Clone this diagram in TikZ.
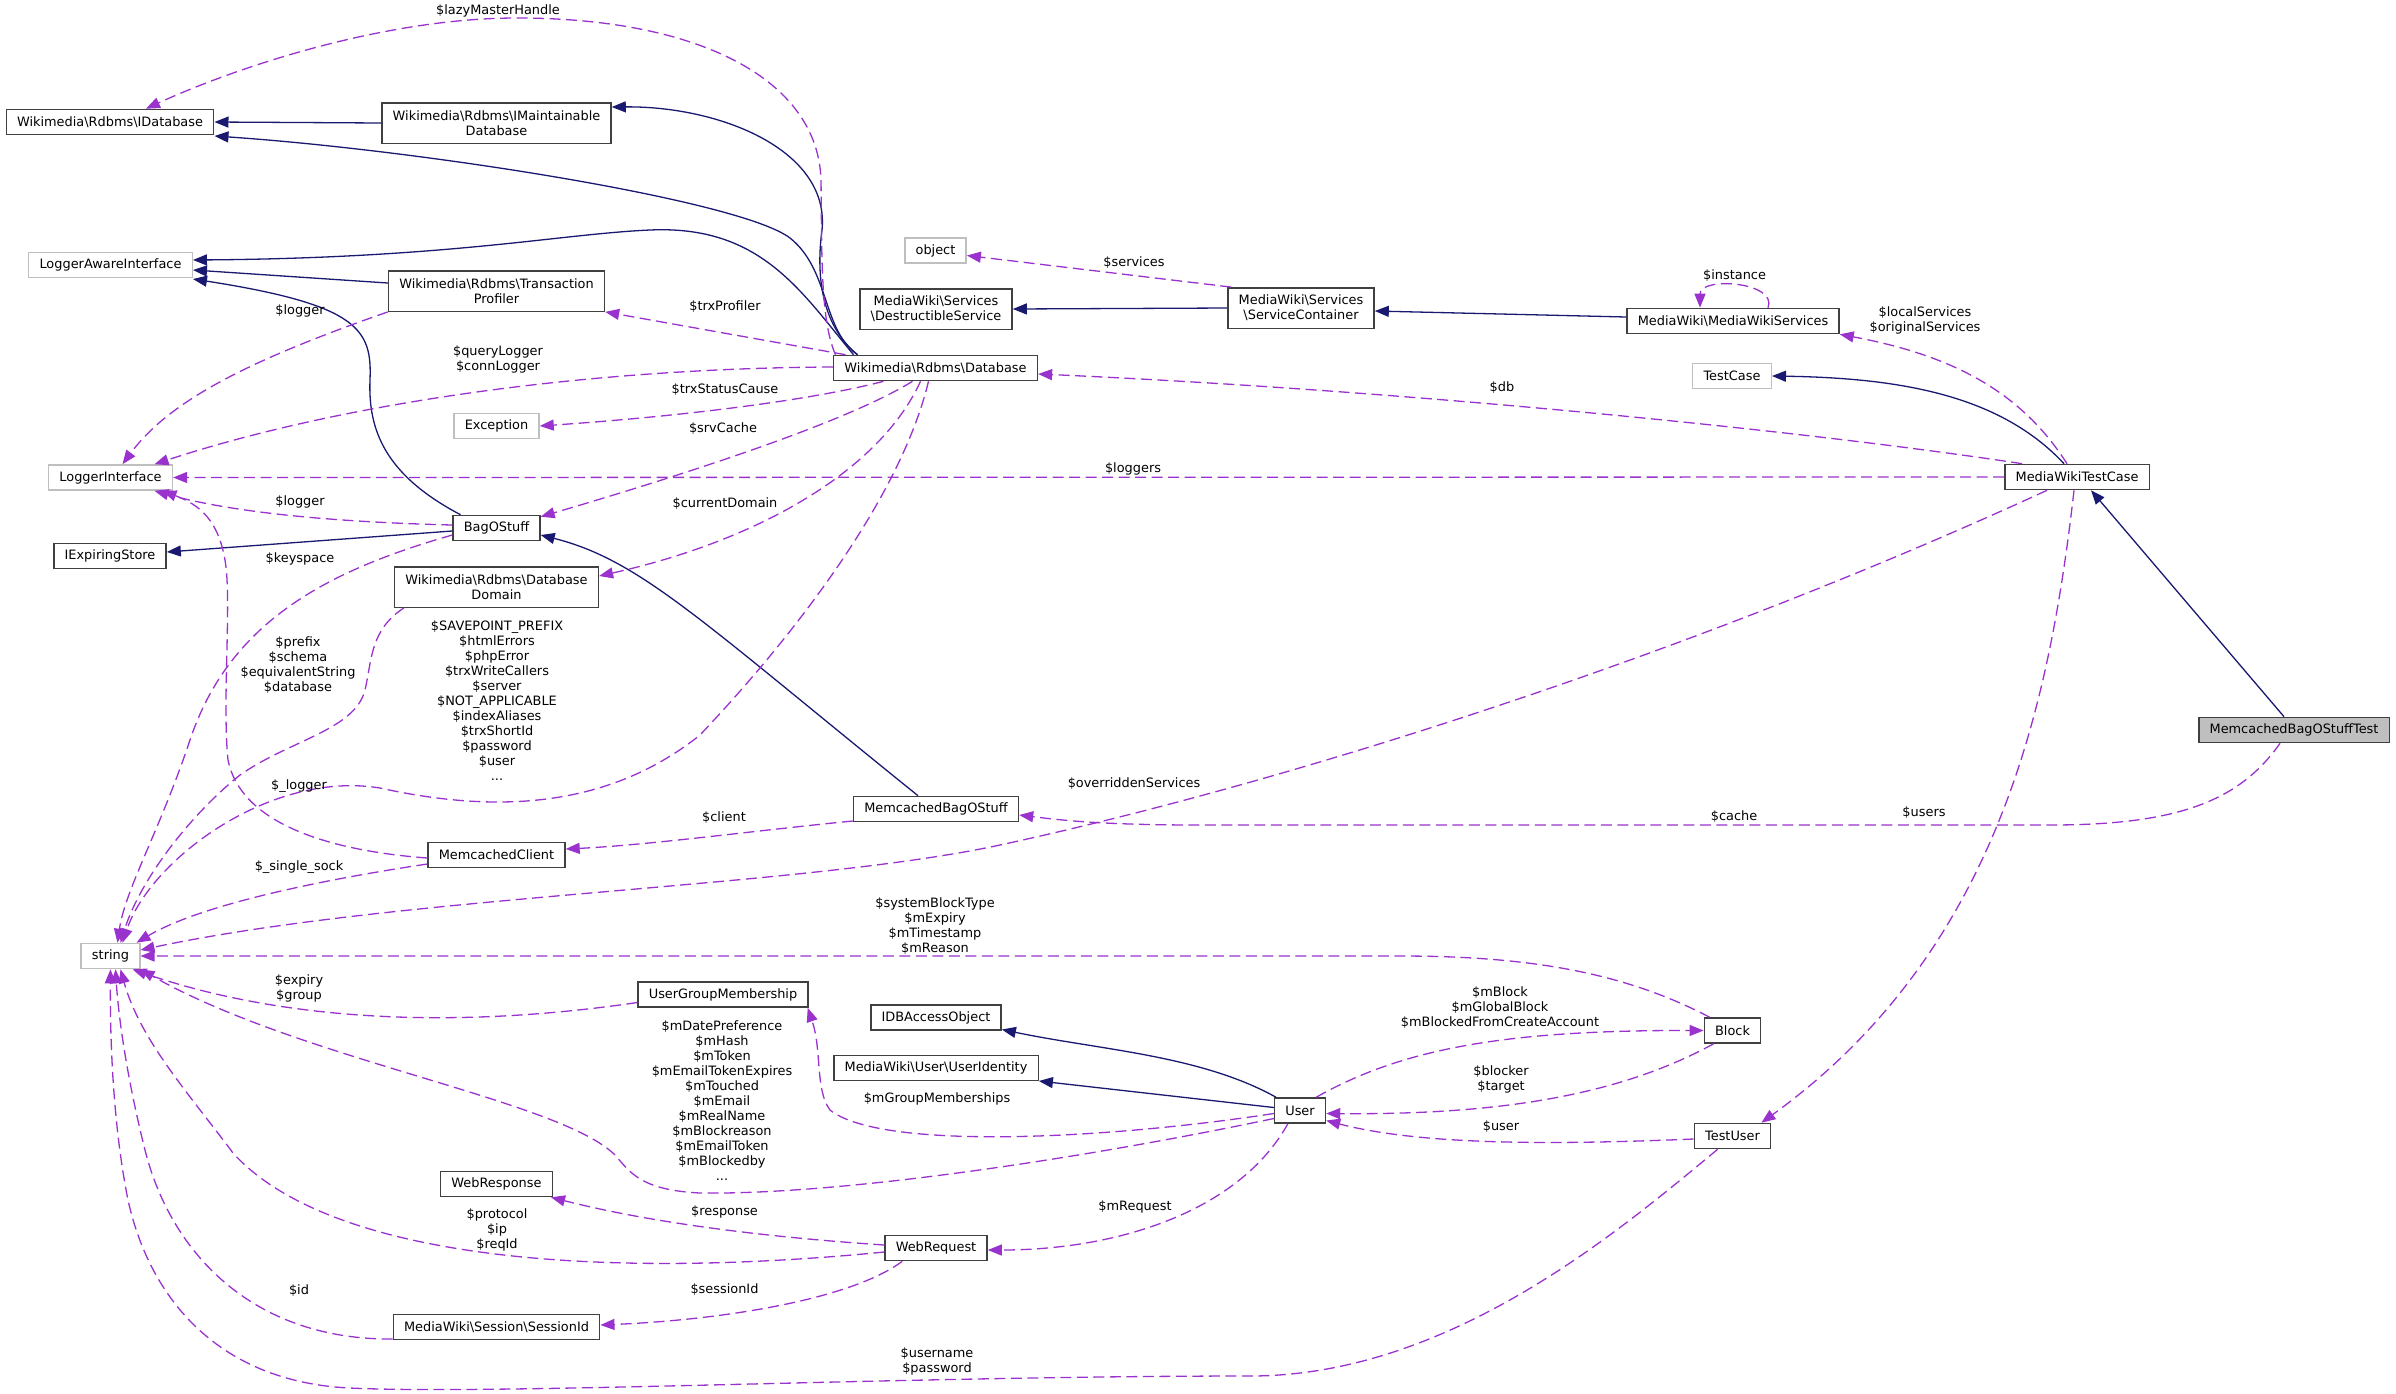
\documentclass[tikz,border=0pt]{standalone}
\usepackage{fontspec}
\setmainfont{DejaVu Sans}
\usepackage{tikz}
\usetikzlibrary{arrows.meta,calc}

\definecolor{edgeblue}{HTML}{191970}
\definecolor{edgeorchid}{HTML}{9A32CD}
\definecolor{boxline}{HTML}{404040}
\definecolor{extline}{HTML}{BFBFBF}

\newcommand{\bkslash}{\textbackslash}

\begin{document}
\begin{tikzpicture}[
  x=0.5pt,
  y=-0.5pt,
  every node/.style={font={\fontsize{6.45}{7.5}\selectfont}},
  cls/.style={draw=boxline, line width=0.7pt, fill=white, inner xsep=5.4pt, inner ysep=2pt, minimum height=12.6pt, align=center},
  tall/.style={cls, minimum height=20.2pt},
  extcls/.style={cls, draw=extline},
  focuscls/.style={cls, fill=extline},
  lab/.style={inner sep=0pt, align=center},
  inhedge/.style={draw=edgeblue, line width=0.65pt, -{Triangle[length=7pt, width=5.5pt]}},
  useedge/.style={draw=edgeorchid, line width=0.65pt, dash pattern=on 5.5pt off 2.75pt, -{Triangle[length=7pt, width=5.5pt]}},
]

% Page frame.
\useasboundingbox (0,0) rectangle (2396,1393);

% Classes, left column.
\node[cls] (idb) at (110,122) {Wikimedia\bkslash Rdbms\bkslash IDatabase};
\node[extcls] (lai) at (110.5,265) {LoggerAwareInterface};
\node[extcls] (li) at (110.5,477.5) {LoggerInterface};
\node[cls] (ies) at (110,556) {IExpiringStore};
\node[extcls] (str) at (110.5,956) {string};

% Classes, second column.
\node[tall] (imdb) at (496.5,123) {Wikimedia\bkslash Rdbms\bkslash IMaintainable\\Database};
\node[tall] (tprof) at (496.5,291) {Wikimedia\bkslash Rdbms\bkslash Transaction\\Profiler};
\node[extcls] (exc) at (496.5,426) {Exception};
\node[cls] (bag) at (496.5,528) {BagOStuff};
\node[tall] (dom) at (496.5,587) {Wikimedia\bkslash Rdbms\bkslash Database\\Domain};
\node[cls] (mcc) at (496.5,855) {MemcachedClient};
\node[cls] (ugm) at (723,994.5) {UserGroupMembership};
\node[cls] (wresp) at (496.5,1184) {WebResponse};
\node[cls] (sid) at (496.5,1327) {MediaWiki\bkslash Session\bkslash SessionId};

% Classes, middle column.
\node[extcls] (obj) at (935.5,250.5) {object};
\node[tall] (dsvc) at (936,309) {MediaWiki\bkslash Services\\\bkslash DestructibleService};
\node[cls] (db) at (935.5,368) {Wikimedia\bkslash Rdbms\bkslash Database};
\node[cls] (mbs) at (936,809) {MemcachedBagOStuff};
\node[cls] (idbao) at (936,1017.5) {IDBAccessObject};
\node[cls] (uid) at (936,1068) {MediaWiki\bkslash User\bkslash UserIdentity};
\node[cls] (wreq) at (936,1248) {WebRequest};

% Classes, right part.
\node[tall] (sc) at (1301,308) {MediaWiki\bkslash Services\\\bkslash ServiceContainer};
\node[cls] (user) at (1300,1110.5) {User};
\node[cls] (mws) at (1733,321) {MediaWiki\bkslash MediaWikiServices};
\node[extcls] (tc) at (1732,376) {TestCase};
\node[cls] (block) at (1732.5,1030.5) {Block};
\node[cls] (tuser) at (1732.5,1136) {TestUser};
\node[cls] (mwtc) at (2077,477) {MediaWikiTestCase};
\node[focuscls] (test) at (2294,730) {MemcachedBagOStuffTest};

% Inheritance.
\draw[inhedge] (imdb.west) -- (idb.east);
\draw[inhedge] ($(db.north)+(-78,0)$) .. controls (822,330) and (830,270) .. (790,238) .. controls (740,200) and (420,150) .. ($(idb.east)+(0,14)$);
\draw[inhedge] ($(db.north)+(-78,0)$) .. controls (815,320) and (818,260) .. (822,230) .. controls (830,150) and (720,106) .. ($(imdb.east)+(0,-16)$);
\draw[inhedge] ($(db.north)+(-82,0)$) .. controls (800,290) and (760,225) .. (650,230) .. controls (560,234) and (450,258) .. ($(lai.east)+(0,-5)$);
\draw[inhedge] ($(tprof.west)+(0,-8)$) -- ($(lai.east)+(0,5)$);
\draw[inhedge] ($(bag.north)+(-36,0)$) .. controls (385,475) and (368,430) .. (370,380) .. controls (372,330) and (360,305) .. ($(lai.east)+(0,14)$);
\draw[inhedge] ($(bag.west)+(0,3)$) -- ($(ies.east)+(0,-4)$);
\draw[inhedge] ($(mbs.north)+(-18,0)$) .. controls (700,620) and (640,560) .. ($(bag.east)+(0,7)$);
\draw[inhedge] (sc.west) -- (dsvc.east);
\draw[inhedge] ($(mws.west)+(0,-4)$) -- ($(sc.east)+(0,3)$);
\draw[inhedge] ($(mwtc.north)+(-13,0)$) .. controls (2000,395) and (1900,378) .. (tc.east);
\draw[inhedge] ($(test.north)+(-10,0)$) -- ($(mwtc.south)+(14,0)$);
\draw[inhedge] ($(user.north)+(-24,0)$) .. controls (1200,1055) and (1100,1050) .. ($(idbao.east)+(0,12)$);
\draw[inhedge] ($(user.west)+(0,-3)$) -- ($(uid.east)+(0,13)$);

% Members of Database.
\draw[useedge] ($(db.north)+(-100,0)$) .. controls (820,320) and (822,250) .. (821,180) .. controls (818,80) and (700,18) .. (517,18) .. controls (380,18) and (230,70) .. ($(idb.north)+(36,0)$);
\draw[useedge] ($(db.north)+(-90,0)$) -- (tprof.south east);
\draw[useedge] ($(db.west)+(0,-1)$) .. controls (600,368) and (350,400) .. ($(li.north)+(44,0)$);
\draw[useedge] ($(db.south)+(-52,0)$) .. controls (820,398) and (700,415) .. (exc.east);
\draw[useedge] ($(db.south)+(-23,0)$) .. controls (850,420) and (700,470) .. ($(bag.north east)+(0,2)$);
\draw[useedge] ($(db.south)+(-15,0)$) .. controls (880,470) and (760,540) .. ($(dom.east)+(0,-11)$);
\draw[useedge] ($(db.south)+(-7,0)$) .. controls (900,500) and (790,640) .. (700,735) .. controls (600,815) and (480,810) .. (380,788) .. controls (270,770) and (150,860) .. ($(str.north)+(12,0)$);
\node[lab] (lab-lazy) at (498,11) {\$lazyMasterHandle};
\node[lab] (lab-trxprof) at (725,307) {\$trxProfiler};
\node[lab] (lab-query) at (498,359.5) {\$queryLogger\\\$connLogger};
\node[lab] (lab-status) at (725,390) {\$trxStatusCause};
\node[lab] (lab-srv) at (723,428.5) {\$srvCache};
\node[lab] (lab-domain) at (725,503.5) {\$currentDomain};
\node[lab] (lab-dbstr) at (497,701) {\$SAVEPOINT\_PREFIX\\\$htmlErrors\\\$phpError\\\$trxWriteCallers\\\$server\\\$NOT\_APPLICABLE\\\$indexAliases\\\$trxShortId\\\$password\\\$user\\...};

% Members of the left-hand classes.
\draw[useedge] (tprof.south west) .. controls (250,360) and (170,400) .. ($(li.north)+(12,0)$);
\draw[useedge] ($(bag.west)+(0,-3)$) .. controls (330,522) and (230,512) .. ($(li.south)+(44,0)$);
\draw[useedge] ($(bag.west)+(0,7)$) .. controls (330,570) and (230,620) .. (190,740) .. controls (160,830) and (125,890) .. ($(str.north)+(7,0)$);
\draw[useedge] ($(dom.south west)+(10,0)$) .. controls (370,630) and (372,660) .. (365,690) .. controls (355,730) and (290,740) .. (240,775) .. controls (190,815) and (140,880) .. ($(str.north)+(10,0)$);
\draw[useedge] ($(mcc.west)+(0,3)$) .. controls (320,850) and (240,820) .. (228,760) .. controls (222,700) and (232,600) .. (225,560) .. controls (218,520) and (200,505) .. ($(li.south)+(52,0)$);
\draw[useedge] ($(mcc.west)+(0,9)$) .. controls (320,880) and (200,905) .. ($(str.north east)+(-4,0)$);
\draw[useedge] ($(mbs.west)+(0,12)$) .. controls (760,830) and (650,845) .. ($(mcc.east)+(0,-6)$);
\node[lab] (lab-tplog) at (300,311) {\$logger};
\node[lab] (lab-baglog) at (300,502) {\$logger};
\node[lab] (lab-key) at (300,558.5) {\$keyspace};
\node[lab] (lab-prefix) at (298,665) {\$prefix\\\$schema\\\$equivalentString\\\$database};
\node[lab] (lab-mclog) at (299,786.5) {\$\_logger};
\node[lab] (lab-sock) at (299,867) {\$\_single\_sock};
\node[lab] (lab-client) at (724,818) {\$client};

% Members of the service classes.
\draw[useedge] ($(sc.north west)+(4,0)$) -- ($(obj.east)+(0,5)$);
\draw[useedge] ($(mws.north)+(35,0)$) .. controls (1778,282) and (1700,276) .. ($(mws.north)+(-33,0)$);
\node[lab] (lab-services) at (1134,262.5) {\$services};
\node[lab] (lab-instance) at (1734.5,276) {\$instance};

% Members of MediaWikiTestCase and the test.
\draw[useedge] ($(mwtc.north west)+(18,0)$) .. controls (1800,430) and (1400,390) .. ($(db.east)+(0,6)$);
\draw[useedge] (mwtc.west) -- (li.east);
\draw[useedge] ($(mwtc.north)+(-10,0)$) .. controls (2020,390) and (1950,355) .. (mws.south east);
\draw[useedge] ($(mwtc.south)+(-30,0)$) .. controls (1700,650) and (1300,780) .. (1000,845) .. controls (800,888) and (400,895) .. ($(str.east)+(0,-6)$);
\draw[useedge] ($(mwtc.south)+(-3,0)$) .. controls (2050,700) and (2000,950) .. ($(tuser.north east)+(-10,0)$);
\draw[useedge] ($(test.south)+(-14,0)$) .. controls (2240,800) and (2180,825) .. (2050,825) -- (1200,825) .. controls (1100,825) and (1060,820) .. ($(mbs.east)+(0,6)$);
\node[lab] (lab-db) at (1502,388) {\$db};
\node[lab] (lab-loggers) at (1133,469) {\$loggers};
\node[lab] (lab-local) at (1925,320) {\$localServices\\\$originalServices};
\node[lab] (lab-overr) at (1134,784) {\$overriddenServices};
\node[lab] (lab-users) at (1924,813) {\$users};
\node[lab] (lab-cache) at (1734,816.5) {\$cache};

% Members of User, Block and TestUser.
\draw[useedge] ($(block.north west)+(6,0)$) .. controls (1620,970) and (1520,956) .. (1400,956) -- (str.east);
\draw[useedge] ($(ugm.west)+(0,8)$) .. controls (450,1030) and (280,1020) .. ($(str.south east)+(-8,0)$);
\draw[useedge] ($(user.west)+(0,8)$) .. controls (1100,1155) and (850,1195) .. (700,1193) .. controls (640,1190) and (630,1172) .. (615,1155) .. controls (560,1100) and (300,1060) .. (str.south east);
\draw[useedge] ($(user.west)+(0,3)$) .. controls (1100,1140) and (880,1150) .. (830,1110) .. controls (815,1090) and (822,1050) .. ($(ugm.south east)+(-1,0)$);
\draw[useedge] ($(user.north east)+(-10,0)$) .. controls (1400,1050) and (1500,1030) .. (block.west);
\draw[useedge] ($(block.south west)+(10,0)$) .. controls (1620,1095) and (1500,1115) .. ($(user.east)+(0,3)$);
\draw[useedge] ($(tuser.west)+(0,3)$) .. controls (1550,1145) and (1420,1145) .. ($(user.east)+(0,10)$);
\draw[useedge] ($(user.south west)+(14,0)$) .. controls (1240,1210) and (1120,1250) .. ($(wreq.east)+(0,2)$);
\draw[useedge] ($(tuser.south west)+(24,0)$) .. controls (1620,1230) and (1450,1376) .. (1250,1376) .. controls (900,1376) and (500,1395) .. (350,1388) .. controls (220,1382) and (150,1300) .. (128,1200) .. controls (112,1120) and (110,1030) .. (str.south);
\node[lab] (lab-block) at (935,926) {\$systemBlockType\\\$mExpiry\\\$mTimestamp\\\$mReason};
\node[lab] (lab-expiry) at (299,988) {\$expiry\\\$group};
\node[lab] (lab-userstr) at (722,1101) {\$mDatePreference\\\$mHash\\\$mToken\\\$mEmailTokenExpires\\\$mTouched\\\$mEmail\\\$mRealName\\\$mBlockreason\\\$mEmailToken\\\$mBlockedby\\...};
\node[lab] (lab-groups) at (937,1099) {\$mGroupMemberships};
\node[lab] (lab-mblock) at (1500,1007.5) {\$mBlock\\\$mGlobalBlock\\\$mBlockedFromCreateAccount};
\node[lab] (lab-blocker) at (1501,1079) {\$blocker\\\$target};
\node[lab] (lab-user) at (1501,1127) {\$user};
\node[lab] (lab-request) at (1135,1207) {\$mRequest};
\node[lab] (lab-username) at (937,1361) {\$username\\\$password};

% Members of WebRequest and SessionId.
\draw[useedge] ($(wreq.west)+(0,-3)$) .. controls (780,1238) and (660,1225) .. ($(wresp.south east)+(-2,0)$);
\draw[useedge] ($(wreq.west)+(0,4)$) .. controls (600,1280) and (330,1260) .. (233,1153) .. controls (190,1095) and (140,1040) .. ($(str.south)+(10,0)$);
\draw[useedge] ($(wreq.south west)+(18,0)$) .. controls (850,1300) and (720,1320) .. ($(sid.east)+(0,-2)$);
\draw[useedge] ($(sid.west)+(0,12)$) .. controls (250,1340) and (170,1250) .. (145,1150) .. controls (125,1070) and (118,1010) .. ($(str.south)+(5,0)$);
\node[lab] (lab-response) at (724.5,1212) {\$response};
\node[lab] (lab-protocol) at (497,1230) {\$protocol\\\$ip\\\$reqId};
\node[lab] (lab-session) at (724.5,1290) {\$sessionId};
\node[lab] (lab-id) at (299,1290.5) {\$id};

\end{tikzpicture}
\end{document}
